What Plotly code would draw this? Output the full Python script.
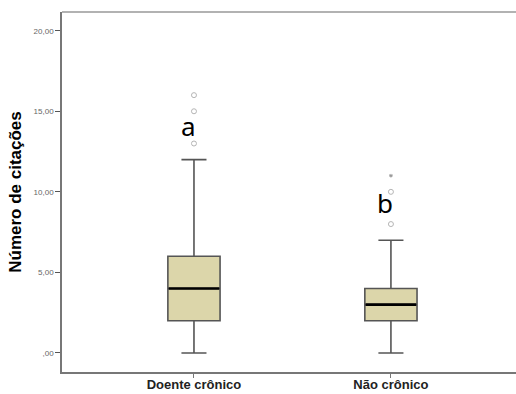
import plotly.graph_objects as go

# Group labels and precomputed box statistics
groups = ["Doente crônico", "Não crônico"]
q1 = [2, 2]
median = [4, 3]
q3 = [6, 4]
lower_whisker = [0, 0]
upper_whisker = [12, 7]

# Outliers (circles) and extremes (asterisks)
outliers = [[13, 15, 16], [8, 10]]
extremes = [[], [11]]

# Significance letters and their heights
letters = ["a", "b"]
letter_y = [14.1, 9.3]

y_ticks = [0, 5, 10, 15, 20]
y_tick_labels = [",00", "5,00", "10,00", "15,00", "20,00"]

pos = list(range(len(groups)))
box_w = 0.265

fig = go.Figure()

fig.add_trace(go.Box(
    x=pos, q1=q1, median=median, q3=q3,
    lowerfence=lower_whisker, upperfence=upper_whisker,
    width=box_w, whiskerwidth=0.48,
    fillcolor="#DCD6AA", line=dict(color="#555555", width=1.6),
    boxpoints=False, showlegend=False, hoverinfo="skip",
))

# Median lines drawn heavier on top of the boxes
for i, m in enumerate(median):
    fig.add_trace(go.Scatter(
        x=[pos[i] - box_w / 2 + 0.004, pos[i] + box_w / 2 - 0.004], y=[m, m],
        mode="lines", line=dict(color="black", width=2.6),
        showlegend=False, hoverinfo="skip",
    ))

for i in pos:
    if outliers[i]:
        fig.add_trace(go.Scatter(
            x=[i] * len(outliers[i]), y=outliers[i], mode="markers",
            marker=dict(symbol="circle-open", size=5, color="#B5B5B5",
                        line=dict(width=1)),
            showlegend=False, hoverinfo="skip",
        ))
    if extremes[i]:
        fig.add_trace(go.Scatter(
            x=[i] * len(extremes[i]), y=extremes[i], mode="markers",
            marker=dict(symbol="asterisk-open", size=3, color="#999999",
                        line=dict(width=1, color="#999999")),
            showlegend=False, hoverinfo="skip",
        ))

for i, (t, yv) in enumerate(zip(letters, letter_y)):
    fig.add_annotation(
        x=pos[i] - 0.03, y=yv, text=t, showarrow=False,
        font=dict(family="Noto Sans, sans-serif", size=26, color="black"),
        xanchor="center", yanchor="middle",
    )

fig.update_layout(
    width=516, height=394,
    margin=dict(l=62, r=0, t=12, b=22),
    plot_bgcolor="white", paper_bgcolor="white",
    xaxis=dict(
        range=[-0.67, 1.635], tickmode="array", tickvals=pos, ticktext=groups,
        showgrid=False, zeroline=False, automargin=False,
        showline=True, linecolor="#777777", linewidth=1.5, mirror=False,
        ticks="outside", ticklen=4, tickcolor="#777777",
        ticklabelstandoff=-4,
        tickfont=dict(family="Liberation Sans, Arial, sans-serif", size=13,
                      color="#222222", weight="bold"),
    ),
    yaxis=dict(
        range=[-1.18, 21.16], tickmode="array", tickvals=y_ticks,
        ticktext=y_tick_labels, showgrid=False, zeroline=False,
        automargin=False,
        showline=True, linecolor="#777777", linewidth=1.5,
        ticks="outside", ticklen=5, tickcolor="#555555",
        tickfont=dict(family="Liberation Sans, Arial, sans-serif", size=8,
                      color="#666666"),
        title=dict(text="Número de citações", standoff=8,
                   font=dict(family="Liberation Sans, Arial, sans-serif",
                             size=17, color="black", weight="bold")),
    ),
    shapes=[dict(type="line", xref="paper", yref="paper", x0=0, x1=1,
                 y0=1, y1=1, line=dict(color="#999999", width=1.5))],
)

fig.write_html("out.html")
